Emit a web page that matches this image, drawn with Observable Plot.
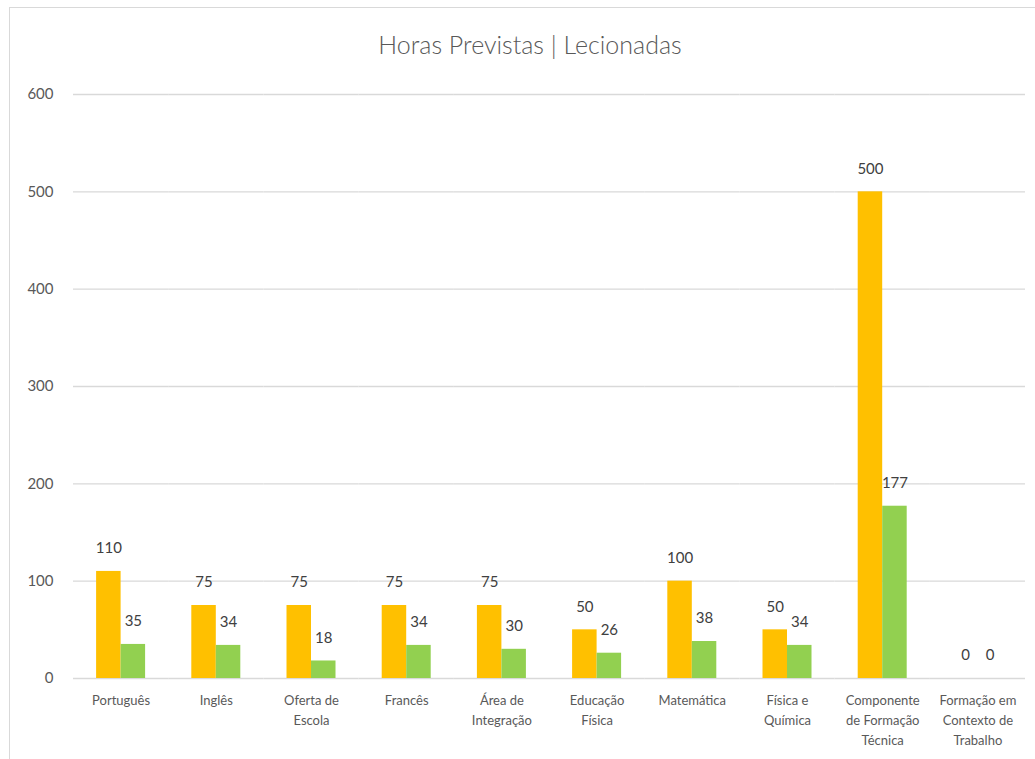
<!DOCTYPE html>
<html>
<head>
<meta charset="utf-8">
<script src="https://cdn.jsdelivr.net/npm/d3@7"></script>
<script src="https://cdn.jsdelivr.net/npm/@observablehq/plot@0.6"></script>
<style>
  html, body { margin: 0; padding: 0; background: #fff; overflow: hidden; }
  #wrap { position: relative; width: 1035px; height: 759px; }
  #frame { position: absolute; left: 9px; top: 7px; width: 1100px; height: 800px; border: 1px solid #d9d9d9; box-sizing: border-box; }
  #title { position: absolute; left: 0; width: 1060px; top: 29px; text-align: center; font-family: Lato, sans-serif; font-size: 25px; color: #595959; font-weight: 300; }
  #chart { position: absolute; left: 0; top: 0; }
</style>
</head>
<body>
<div id="wrap">
  <div id="frame"></div>
  <div id="chart"></div>
  <div id="title">Horas Previstas | Lecionadas</div>
</div>
<script>
const categories = ["Português", "Inglês", "Oferta de Escola", "Francês", "Área de Integração", "Educação Física", "Matemática", "Física e Química", "Componente de Formação Técnica", "Formação em Contexto de Trabalho"];
const tickLabels = ["Português", "Inglês", "Oferta de\nEscola", "Francês", "Área de\nIntegração", "Educação\nFísica", "Matemática", "Física e\nQuímica", "Componente\nde Formação\nTécnica", "Formação em\nContexto de\nTrabalho"];
const series = ["Horas Previstas", "Horas Lecionadas"];
const previstas = [110, 75, 75, 75, 75, 50, 100, 50, 500, 0];
const lecionadas = [35, 34, 18, 34, 30, 26, 38, 34, 177, 0];
const yTicks = [0, 100, 200, 300, 400, 500, 600];
const colors = ["#FFC000", "#92D050"];

const data = categories.flatMap((c, i) => [
  {cat: c, serie: series[0], v: previstas[i]},
  {cat: c, serie: series[1], v: lecionadas[i]}
]);
const labelOf = new Map(categories.map((c, i) => [c, tickLabels[i]]));

const chart = Plot.plot({
  width: 1035,
  height: 759,
  marginTop: 94,
  marginLeft: 73,
  marginRight: 10,
  marginBottom: 81,
  style: {fontFamily: "Lato, sans-serif", background: "transparent"},
  fx: {domain: categories, padding: 0, label: null, round: false},
  x: {domain: series, paddingInner: 0, paddingOuter: 0.943, round: false, axis: null},
  y: {domain: [0, 600], label: null},
  color: {domain: series, range: colors},
  marks: [
    Plot.ruleY(yTicks, {stroke: "#d9d9d9", strokeWidth: 1.3}),
    Plot.barY(data, {fx: "cat", x: "serie", y: "v", fill: "serie"}),
    Plot.text(data, {fx: "cat", x: "serie", y: "v", text: d => String(d.v), dy: -23, fontSize: 15, fill: "#404040"}),
    Plot.axisY(yTicks, {tickSize: 0, tickPadding: 20, fontSize: 15, fill: "#595959", label: null}),
    Plot.axisFx({anchor: "bottom", tickSize: 0, tickPadding: 12, fontSize: 13, lineHeight: 1.55, fill: "#595959", label: null, tickFormat: d => labelOf.get(d)})
  ]
});
document.getElementById("chart").appendChild(chart);
</script>
</body>
</html>
